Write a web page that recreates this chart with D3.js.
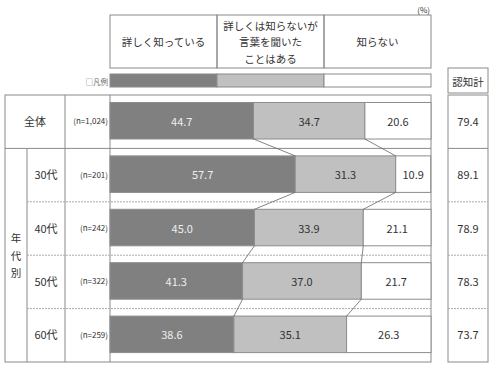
<!DOCTYPE html>
<html>
<meta charset="utf-8" />
<head>
<style>
body { margin: 0; background: #fff; }
svg text {
  font-family: "Noto Sans CJK JP", "Noto Sans", sans-serif;
  fill: #333;
}
</style>
<script src="https://d3js.org/d3.v7.min.js" charset="utf-8"></script>
</head>
<body>
<svg class="chart" width="492" height="368"></svg>

<script>
// data
var groups = ["全体", "30代", "40代", "50代", "60代"];
var sampleSizes = ["(n=1,024)", "(n=201)", "(n=242)", "(n=322)", "(n=259)"];
var detailed = [44.7, 57.7, 45.0, 41.3, 38.6];
var heard = [34.7, 31.3, 33.9, 37.0, 35.1];
var unknown = [20.6, 10.9, 21.1, 21.7, 26.3];
var awareTotal = [79.4, 89.1, 78.9, 78.3, 73.7];
var categories = [["詳しく知っている"], ["詳しくは知らないが", "言葉を聞いた", "ことはある"], ["知らない"]];
var sideLabel = "年代別";

var fills = ["#808080", "#c0c0c0", "#ffffff"];
var lineCol = "#8a8a8a";

var svg = d3.select(".chart");

var x = d3.scaleLinear().domain([0, 100]).range([110, 431]);
var y = d3.scaleBand().domain(groups).range([95, 362]);
var barTop = 7.5, barH = 36.5;

var rows = groups.map(function(g, i) {
  return { g: g, n: sampleSizes[i], vals: [detailed[i], heard[i], unknown[i]], total: awareTotal[i] };
});
rows.forEach(function(r) {
  var acc = 0;
  r.segs = r.vals.map(function(v, k) {
    var s = { x0: acc, x1: acc + v, v: v, k: k };
    acc += v;
    return s;
  });
});

// header boxes (legend thirds)
var thirds = [0, 100 / 3, 200 / 3, 100];
var head = svg.append("g");
categories.forEach(function(lines, k) {
  head.append("rect")
    .attr("x", x(thirds[k])).attr("y", 15)
    .attr("width", x(thirds[k + 1]) - x(thirds[k])).attr("height", 53)
    .attr("fill", "none").attr("stroke", lineCol);
  var cx = (x(thirds[k]) + x(thirds[k + 1])) / 2;
  lines.forEach(function(t, j) {
    head.append("text")
      .attr("x", cx)
      .attr("y", 41.5 + (j - (lines.length - 1) / 2) * 16.5)
      .attr("text-anchor", "middle").attr("dominant-baseline", "central")
      .style("font-size", "10.5px").text(t);
  });
});
svg.append("text").attr("x", 430).attr("y", 9).attr("text-anchor", "end")
  .attr("dominant-baseline", "central").style("font-size", "8px").text("(%)");

// legend bar
thirds.slice(0, 3).forEach(function(t, k) {
  svg.append("rect")
    .attr("x", x(t)).attr("y", 74)
    .attr("width", x(thirds[k + 1]) - x(t)).attr("height", 13)
    .attr("fill", fills[k]).attr("stroke", lineCol);
});
svg.append("text").attr("x", 108).attr("y", 81).attr("text-anchor", "end")
  .attr("dominant-baseline", "central").style("font-size", "7.5px")
  .style("fill", "#666").text("□凡例");

// table lines
var t = svg.append("g").attr("fill", "none").attr("stroke", lineCol);
t.append("rect").attr("x", 5).attr("y", 95).attr("width", 426).attr("height", 267);
t.append("line").attr("x1", 65).attr("x2", 65).attr("y1", 95).attr("y2", 362);
t.append("line").attr("x1", 110).attr("x2", 110).attr("y1", 95).attr("y2", 362);
t.append("line").attr("x1", 27).attr("x2", 27).attr("y1", y(groups[1])).attr("y2", 362);
t.append("line").attr("x1", 5).attr("x2", 431).attr("y1", y(groups[1])).attr("y2", y(groups[1]));
groups.slice(2).forEach(function(g) {
  t.append("line").attr("x1", 27).attr("x2", 431).attr("y1", y(g)).attr("y2", y(g))
    .attr("stroke", "#aaa").attr("stroke-dasharray", "2,1");
});

// 認知計 column
var a = svg.append("g").attr("fill", "none").attr("stroke", lineCol);
a.append("rect").attr("x", 448).attr("y", 68).attr("width", 40).attr("height", 25);
a.append("rect").attr("x", 448).attr("y", 95).attr("width", 40).attr("height", 267);
a.append("line").attr("x1", 448).attr("x2", 488).attr("y1", y(groups[1])).attr("y2", y(groups[1]));
groups.slice(2).forEach(function(g) {
  a.append("line").attr("x1", 448).attr("x2", 488).attr("y1", y(g)).attr("y2", y(g))
    .attr("stroke", "#aaa").attr("stroke-dasharray", "2,1");
});
svg.append("text").attr("x", 468).attr("y", 81).attr("text-anchor", "middle")
  .attr("dominant-baseline", "central").style("font-size", "10.5px").text("認知計");
svg.selectAll(".aware").data(rows).enter().append("text")
  .attr("x", 468).attr("y", function(d) { return y(d.g) + barTop + barH / 2; })
  .attr("text-anchor", "middle").attr("dominant-baseline", "central")
  .style("font-size", "11px").text(function(d) { return d.total.toFixed(1); });

// row labels
svg.selectAll(".glab").data(rows).enter().append("text")
  .attr("x", function(d, i) { return i === 0 ? 35 : 46; })
  .attr("y", function(d) { return y(d.g) + barTop + barH / 2; })
  .attr("text-anchor", "middle").attr("dominant-baseline", "central")
  .style("font-size", "11px").text(function(d) { return d.g; });
svg.selectAll(".nlab").data(rows).enter().append("text")
  .attr("x", 108)
  .attr("y", function(d) { return y(d.g) + barTop + barH / 2; })
  .attr("text-anchor", "end").attr("dominant-baseline", "central")
  .style("font-size", "8px").text(function(d) { return d.n; });
var midY = (y(groups[1]) + 362) / 2;
sideLabel.split("").forEach(function(c, j) {
  svg.append("text").attr("x", 16).attr("y", midY + (j - 1) * 17.5)
    .attr("text-anchor", "middle").attr("dominant-baseline", "central")
    .style("font-size", "10.5px").text(c);
});

// bars
var bars = svg.selectAll(".row").data(rows).enter().append("g");
bars.selectAll("rect").data(function(d) { return d.segs.map(function(s) { s.g = d.g; return s; }); })
  .enter().append("rect")
  .attr("x", function(s) { return x(s.x0); })
  .attr("y", function(s) { return y(s.g) + barTop; })
  .attr("width", function(s) { return x(s.x1) - x(s.x0); })
  .attr("height", barH)
  .attr("fill", function(s) { return fills[s.k]; })
  .attr("stroke", "#8c8c8c");
bars.selectAll("text").data(function(d) { return d.segs; })
  .enter().append("text")
  .attr("x", function(s) { return (x(s.x0) + x(s.x1)) / 2; })
  .attr("y", function(s) { return y(s.g) + barTop + barH / 2; })
  .attr("text-anchor", "middle").attr("dominant-baseline", "central")
  .style("font-size", "11px")
  .style("fill", function(s) { return s.k === 0 ? "#eeeeee" : "#333"; })
  .text(function(s) { return s.v.toFixed(1); });

// connector lines between consecutive bars
for (var i = 0; i < rows.length - 1; i++) {
  [0, 1].forEach(function(k) {
    svg.append("line")
      .attr("x1", x(rows[i].segs[k].x1)).attr("y1", y(rows[i].g) + barTop + barH)
      .attr("x2", x(rows[i + 1].segs[k].x1)).attr("y2", y(rows[i + 1].g) + barTop)
      .attr("stroke", "#666").attr("stroke-width", 0.8);
  });
}
</script>
</body>
</html>
